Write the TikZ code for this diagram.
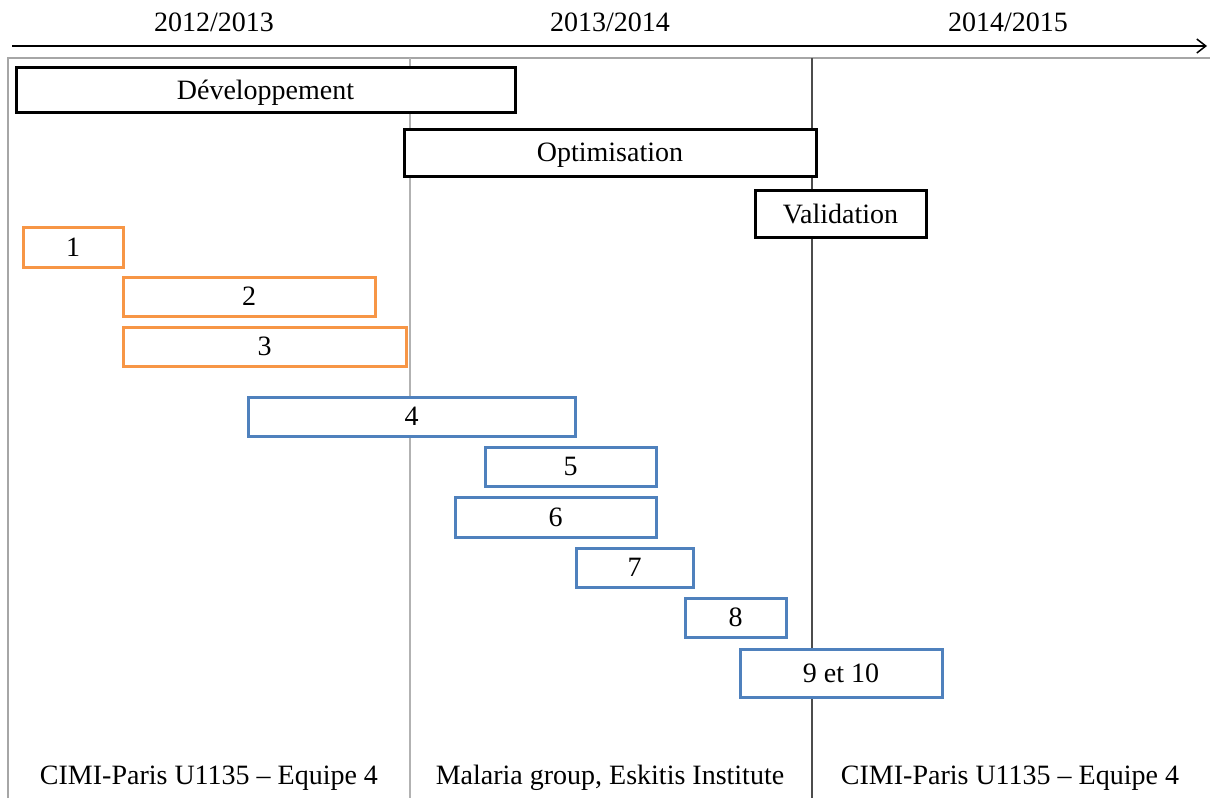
\documentclass[tikz,border=0pt]{standalone}
\usepackage{fontspec}
\setmainfont{Liberation Serif}
\usetikzlibrary{arrows.meta}
\definecolor{taskorange}{RGB}{247,150,70}
\definecolor{taskblue}{RGB}{79,129,189}
\tikzset{
  phase/.style={draw=black,line width=3pt,fill=white,inner sep=0pt,text depth=0pt},
  orangetask/.style={draw=taskorange,line width=3pt,fill=white,inner sep=0pt,text depth=0pt},
  bluetask/.style={draw=taskblue,line width=3pt,fill=white,inner sep=0pt,text depth=0pt},
  yearlabel/.style={inner sep=0pt},
}
\begin{document}
\begin{tikzpicture}[x=1pt,y=-1pt,font=\fontsize{28}{31}\selectfont]
\useasboundingbox (0,0) rectangle (1210,798);
% time axis
\draw[line width=1.5pt,-{Straight Barb[length=9pt,width=14pt,line width=1.5pt]}] (12,46) -- (1207,46);
\node[yearlabel] (y1) at (214,22) {2012/2013};
\node[yearlabel] (y2) at (610,22) {2013/2014};
\node[yearlabel] (y3) at (1008,22) {2014/2015};
% frame
\draw[gray!70,line width=1.5pt] (8,798) -- (8,58) -- (1210,58);
\draw[gray!60,line width=1.5pt] (410,58) -- (410,798);
\draw[black!70,line width=1.8pt] (812,58) -- (812,798);
% phases
\node[phase,minimum width=499pt,minimum height=45pt] (dev) at (265.5,89.5) {Développement};
\node[phase,minimum width=412pt,minimum height=47pt] (opt) at (610,152.5) {Optimisation};
\node[phase,minimum width=171pt,minimum height=47pt] (valid) at (840.5,213.5) {Validation};
% tasks
\node[orangetask,minimum width=100pt,minimum height=40pt] (t1) at (73,247) {1};
\node[orangetask,minimum width=252pt,minimum height=39pt] (t2) at (249,296.5) {2};
\node[orangetask,minimum width=283pt,minimum height=39pt] (t3) at (264.5,346.5) {3};
\node[bluetask,minimum width=327pt,minimum height=39pt] (t4) at (411.5,416.5) {4};
\node[bluetask,minimum width=171pt,minimum height=39pt] (t5) at (570.5,466.5) {5};
\node[bluetask,minimum width=201pt,minimum height=40pt] (t6) at (555.5,517) {6};
\node[bluetask,minimum width=117pt,minimum height=39pt] (t7) at (634.5,567.5) {7};
\node[bluetask,minimum width=101pt,minimum height=39pt] (t8) at (735.5,617.5) {8};
\node[bluetask,minimum width=202pt,minimum height=48pt] (t9) at (841,673) {9 et 10};
% teams
\node (team1) at (209,778) {CIMI-Paris U1135 -- Equipe 4};
\node (team2) at (610,778) {Malaria group, Eskitis Institute};
\node (team3) at (1010,778) {CIMI-Paris U1135 -- Equipe 4};
\end{tikzpicture}
\end{document}
